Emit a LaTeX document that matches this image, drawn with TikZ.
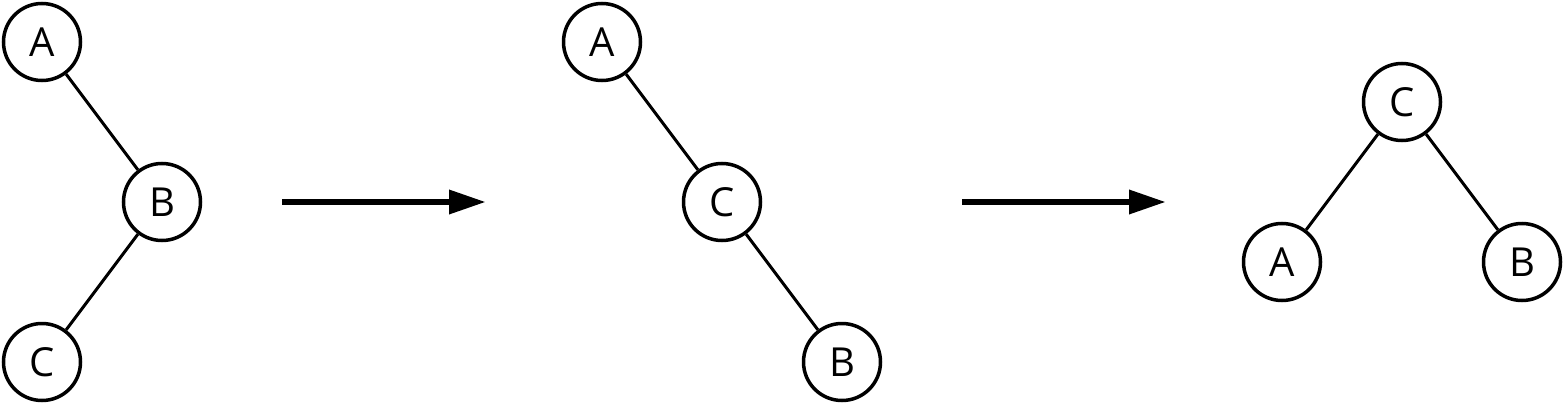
\documentclass[tikz,border=0pt]{standalone}
\usepackage{fontspec}
\setmainfont{Open Sans}
\usetikzlibrary{arrows.meta}
\begin{document}
\begin{tikzpicture}[x=1pt,y=-1pt,
  vert/.style={circle,draw,line width=3.5pt,minimum size=77pt,inner sep=0pt,font=\fontsize{40}{40}\selectfont},
  edge/.style={line width=3pt},
  bigarrow/.style={line width=6.5pt,-{Triangle[length=37pt,width=23pt]}}]
\useasboundingbox (0,0) rectangle (1564,404);
% tree 1
\node[vert] (a1) at (42,42) {A};
\node[vert] (b1) at (162,202) {B};
\node[vert] (c1) at (42,362) {C};
\draw[edge] (a1) -- (b1);
\draw[edge] (b1) -- (c1);
% arrow 1
\coordinate (s1) at (282,202);
\coordinate (e1) at (486,202);
\draw[bigarrow] (s1) -- (e1);
% tree 2
\node[vert] (a2) at (602,42) {A};
\node[vert] (c2) at (722,202) {C};
\node[vert] (b2) at (842,362) {B};
\draw[edge] (a2) -- (c2);
\draw[edge] (c2) -- (b2);
% arrow 2
\coordinate (s2) at (962,202);
\coordinate (e2) at (1166,202);
\draw[bigarrow] (s2) -- (e2);
% tree 3
\node[vert] (c3) at (1402,102) {C};
\node[vert] (a3) at (1282,262) {A};
\node[vert] (b3) at (1522,262) {B};
\draw[edge] (c3) -- (a3);
\draw[edge] (c3) -- (b3);
\end{tikzpicture}
\end{document}
